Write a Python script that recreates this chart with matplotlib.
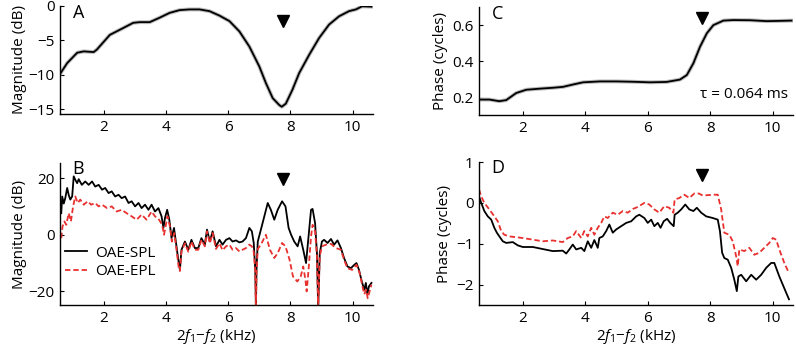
import numpy as np
import matplotlib
matplotlib.use("Agg")
import matplotlib.pyplot as plt
import matplotlib.transforms as mtransforms

plt.rcParams['font.family'] = ['Open Sans', 'DejaVu Sans']
plt.rcParams['mathtext.fontset'] = 'custom'
plt.rcParams['mathtext.rm'] = 'Open Sans'
plt.rcParams['mathtext.it'] = 'Open Sans:italic'

# ---- Panel A: magnitude (dB)
a_x = [0.62, 0.83, 1.15, 1.36, 1.68, 1.78, 2.2, 2.63, 2.95, 3.16, 3.48, 3.8, 4.12, 4.44,
       4.76, 5.08, 5.4, 5.72, 6.04, 6.36, 6.68, 7.0, 7.21, 7.43, 7.64, 7.72, 7.85, 8.06,
       8.28, 8.6, 8.92, 9.24, 9.56, 9.88, 10.1, 10.3, 10.6]
a_y = [-9.75, -8.3, -6.8, -6.6, -6.7, -6.35, -4.2, -3.2, -2.45, -2.35, -2.35, -1.7, -1.0, -0.6,
       -0.5, -0.5, -0.75, -1.4, -2.2, -3.7, -5.9, -8.8, -11.2, -13.4, -14.4, -14.65, -14.2, -12.2,
       -9.75, -7.1, -4.65, -2.7, -1.5, -0.75, -0.5, -0.05, -0.1]

# ---- Panel B: OAE magnitude (dB)
b_spl_x = [0.64, 0.67, 0.72, 0.77, 0.83, 0.88, 0.93, 0.99, 1.04, 1.09, 1.15, 1.2, 1.3, 1.41,
           1.52, 1.63, 1.73, 1.84, 1.95, 2.05, 2.16, 2.26, 2.37, 2.48, 2.58, 2.69, 2.8, 2.9,
           3.01, 3.12, 3.22, 3.33, 3.44, 3.54, 3.65, 3.76, 3.86, 3.92, 3.97, 4.04, 4.11, 4.18,
           4.26, 4.34, 4.39, 4.45, 4.5, 4.61, 4.72, 4.82, 4.93, 5.04, 5.14, 5.25, 5.32, 5.41,
           5.5, 5.61, 5.72, 5.82, 5.93, 6.04, 6.14, 6.25, 6.36, 6.46, 6.57, 6.68, 6.76, 6.82,
           6.87, 6.89, 6.91, 6.95, 7.05, 7.16, 7.27, 7.37, 7.48, 7.59, 7.73, 7.84, 7.94, 8.02,
           8.12, 8.23, 8.31, 8.41, 8.5, 8.58, 8.66, 8.71, 8.79, 8.85, 8.89, 8.94, 9.01, 9.08,
           9.19, 9.3, 9.4, 9.51, 9.62, 9.72, 9.83, 9.94, 10.05, 10.12, 10.2, 10.29, 10.37,
           10.42, 10.47, 10.52, 10.6]
b_spl_y = [7.6, 13.5, 11, 13, 16.5, 14, 12.4, 13.5, 20.6, 19.4, 18.2, 19.6, 17.6, 18.8,
           17.6, 18.8, 17, 17.6, 15.9, 16.5, 14.7, 15.3, 13.5, 14.1, 12.9, 13.5, 11.2, 11.8,
           10, 11.2, 9.4, 10.6, 8.8, 10.6, 8.2, 9.4, 6.5, 2.4, 5.9, 8.8, 5.3, -1.2,
           2.4, -4.1, -8.2, -12.4, -5.3, -2.4, -5.3, -1.8, -4.7, -4.7, -1.2, -3.5, 1.8, -2.4,
           1.2, -4.1, -1.8, -3.5, -1.8, -1.2, -2.4, -2.0, -2.7, -2.4, -1.2, 2.4, 1.2, -2.9,
           -12.4, -26, -12, -2.4, 1.8, 6.5, 11.2, 8.8, 5.3, 8.8, 11.8, 10, 2.4, 0,
           -2.4, -4.1, -0.6, -5.3, -10, -0.6, 8.8, 9.1, 4.1, -6.5, -26, -6.5, -2.4, -1.8,
           -2.9, -1.5, -3.5, -2.0, -4.7, -8.2, -11.2, -11.8, -10.6, -10, -12.4, -16.5, -19.4,
           -17, -21, -18.2, -17]

b_epl_x = [0.64, 0.68, 0.74, 0.8, 0.88, 0.95, 1.02, 1.09, 1.17, 1.25, 1.36, 1.49, 1.6, 1.73,
           1.84, 1.95, 2.11, 2.26, 2.42, 2.58, 2.74, 2.9, 3.06, 3.22, 3.38, 3.54, 3.65, 3.78,
           3.88, 3.94, 3.99, 4.05, 4.13, 4.19, 4.27, 4.34, 4.42, 4.45, 4.5, 4.61, 4.72, 4.82,
           4.93, 5.04, 5.14, 5.25, 5.32, 5.41, 5.5, 5.61, 5.72, 5.82, 5.93, 6.04, 6.14, 6.25,
           6.36, 6.46, 6.57, 6.68, 6.76, 6.82, 6.87, 6.89, 6.91, 6.95, 7.05, 7.21, 7.34, 7.48,
           7.59, 7.73, 7.84, 7.97, 8.08, 8.22, 8.33, 8.41, 8.48, 8.52, 8.58, 8.66, 8.71, 8.79,
           8.85, 8.89, 8.94, 9.01, 9.14, 9.3, 9.46, 9.62, 9.72, 9.83, 9.98, 10.12, 10.22,
           10.3, 10.37, 10.43, 10.48, 10.6]
b_epl_y = [-1.2, 2.9, 4.7, 3.5, 7.6, 4.7, 10, 13.5, 11.2, 12.4, 10.6, 11.8, 10.6, 11.2,
           10, 10.6, 9.4, 10, 8.2, 8.8, 7.6, 6.5, 5.3, 7.1, 5.3, 8.2, 6.5, 5.3,
           3.5, 0, 2.9, 6.5, 2.9, -2.4, 0.6, -5.3, -12.4, -12.8, -6, -3, -6, -2.4,
           -5.3, -5.3, -1.8, -4.1, 1.2, -3, 0.6, -5, -3, -5.5, -4.1, -3.5, -5.3, -4.7,
           -5.9, -5.3, -4.7, -3.5, -4.1, -6, -13, -26, -13, -5, -3.5, 0, -5.3, -8.2,
           -6.5, -2.9, -4.1, -8.8, -14.7, -16.5, -14.7, -11.2, -15.9, -20, -12.4, -0.6, 3.5, 1.2,
           -7.6, -26, -7.6, -4.1, -3.5, -3.2, -4.7, -5.3, -8.8, -11.8, -12.4, -10.6, -13.5,
           -17.6, -21, -19.4, -22.4, -17.6]

# ---- Panel C: phase (cycles)
c_x = [0.61, 0.93, 1.25, 1.47, 1.79, 2.11, 2.54, 2.97, 3.29, 3.61, 3.93, 4.47, 5.0, 5.54,
       6.07, 6.6, 7.03, 7.25, 7.46, 7.67, 7.89, 8.1, 8.42, 8.74, 9.28, 9.81, 10.13, 10.6]
c_y = [0.19, 0.19, 0.181, 0.187, 0.226, 0.244, 0.25, 0.255, 0.26, 0.273, 0.285, 0.29, 0.29, 0.288,
       0.285, 0.287, 0.3, 0.325, 0.39, 0.48, 0.555, 0.6, 0.625, 0.628, 0.627, 0.622, 0.623, 0.625]

# ---- Panel D: OAE phase (cycles)
d_spl_x = [0.6, 0.67, 0.77, 0.88, 0.99, 1.09, 1.17, 1.25, 1.36, 1.47, 1.68, 1.84, 2.0, 2.32,
           2.64, 2.96, 3.28, 3.39, 3.49, 3.6, 3.71, 3.87, 3.97, 4.08, 4.19, 4.29, 4.4, 4.45,
           4.56, 4.67, 4.77, 4.88, 4.99, 5.15, 5.31, 5.47, 5.63, 5.73, 5.89, 6.0, 6.11, 6.21,
           6.32, 6.41, 6.51, 6.62, 6.72, 6.83, 6.86, 6.96, 7.07, 7.2, 7.33, 7.46, 7.57, 7.71,
           7.87, 8.08, 8.24, 8.31, 8.38, 8.45, 8.56, 8.67, 8.77, 8.85, 8.9, 8.99, 9.15, 9.31,
           9.47, 9.63, 9.79, 9.95, 10.05, 10.21, 10.32, 10.43, 10.52]
d_spl_y = [0.16, 0.0, -0.2, -0.33, -0.41, -0.61, -0.73, -0.82, -0.94, -0.98, -0.96, -1.04, -1.08, -1.08,
           -1.13, -1.18, -1.17, -1.24, -1.14, -1.02, -1.14, -1.1, -1.18, -0.94, -1.1, -0.91, -1.1, -0.86,
           -0.82, -0.69, -0.53, -0.73, -0.65, -0.57, -0.49, -0.45, -0.33, -0.29, -0.37, -0.49, -0.41, -0.57,
           -0.49, -0.61, -0.45, -0.39, -0.49, -0.57, -0.29, -0.24, -0.16, -0.04, -0.16, -0.2, -0.12, -0.24,
           -0.33, -0.37, -0.41, -0.69, -1.22, -1.35, -1.39, -1.59, -1.88, -2.16, -1.8, -1.76, -1.92, -1.76,
           -1.88, -1.76, -1.59, -1.47, -1.47, -1.8, -2.0, -2.2, -2.36]
d_epl_x = [0.6, 0.67, 0.77, 0.93, 1.09, 1.2, 1.31, 1.41, 1.57, 1.79, 2.0, 2.32, 2.64, 2.96,
           3.28, 3.44, 3.6, 3.71, 3.87, 3.97, 4.08, 4.19, 4.29, 4.4, 4.51, 4.61, 4.72, 4.88,
           5.04, 5.2, 5.36, 5.52, 5.68, 5.89, 6.05, 6.21, 6.37, 6.53, 6.69, 6.82, 6.86, 7.01,
           7.17, 7.33, 7.49, 7.63, 7.76, 7.92, 8.13, 8.24, 8.35, 8.45, 8.61, 8.72, 8.83, 8.88,
           8.93, 9.09, 9.25, 9.41, 9.57, 9.73, 9.89, 10.0, 10.11, 10.21, 10.37, 10.52]
d_epl_y = [0.33, 0.16, 0.0, -0.16, -0.33, -0.45, -0.69, -0.78, -0.82, -0.84, -0.86, -0.9, -0.94, -0.92,
           -0.96, -0.86, -0.82, -0.69, -0.86, -0.69, -0.82, -0.61, -0.78, -0.61, -0.49, -0.33, -0.37, -0.24,
           -0.29, -0.2, -0.24, -0.15, -0.1, 0.0, -0.04, -0.16, -0.24, -0.08, -0.12, -0.24, 0.08, 0.12,
           0.2, 0.12, 0.23, 0.23, 0.18, 0.19, 0.2, 0.2, -0.16, -0.73, -0.78, -0.94, -1.31, -1.55,
           -1.14, -1.18, -1.1, -1.27, -1.22, -1.1, -0.98, -0.86, -0.9, -1.14, -1.47, -1.72]

x_ticks = [2, 4, 6, 8, 10]
marker_x = 7.75
tau_text = "\u03c4 = 0.064 ms"
legend_labels = ["OAE-SPL", "OAE-EPL"]

fig = plt.figure(figsize=(7.96, 3.58), dpi=100)
axA = fig.add_axes([0.0754, 0.6816, 0.3932, 0.3017])
axB = fig.add_axes([0.0754, 0.148, 0.3932, 0.3966])
axC = fig.add_axes([0.6018, 0.6788, 0.3945, 0.3017])
axD = fig.add_axes([0.6018, 0.148, 0.3945, 0.3994])

FS = 11
for ax in (axA, axB, axC, axD):
    ax.set_xlim(0.6, 10.65)
    ax.set_xticks(x_ticks)
    for s in ('top', 'right'):
        ax.spines[s].set_visible(False)
    ax.spines['left'].set_linewidth(1.0)
    ax.spines['bottom'].set_linewidth(1.0)
    ax.tick_params(direction='in', length=3, width=0.8, labelsize=FS, pad=4)

red = '#e8312f'
axA.plot(a_x, a_y, color='#bbbbbb', lw=2.8)
axA.plot(a_x, a_y, color='black', lw=1.3)
axA.set_ylim(-15.7, 0)
axA.set_yticks([-15, -10, -5, 0])
axA.set_yticklabels(['\u221215', '\u221210', '\u22125', '0'])
axA.set_ylabel('Magnitude (dB)', fontsize=FS, labelpad=1)

l1, = axB.plot(b_spl_x, b_spl_y, color='black', lw=1.3)
l2, = axB.plot(b_epl_x, b_epl_y, color=red, lw=1.3, ls=(0, (3, 1.6)))
axB.set_ylim(-24.8, 25.3)
axB.set_yticks([-20, 0, 20])
axB.set_yticklabels(['\u221220', '0', '20'])
axB.set_ylabel('Magnitude (dB)', fontsize=FS, labelpad=1)
axB.set_xlabel(r'2$\mathit{f}_1$' + '\u2212' + r'$\mathit{f}_2$ (kHz)', fontsize=FS, labelpad=1)
axB.legend([l1, l2], legend_labels, loc='upper left', bbox_to_anchor=(-0.005, 0.46),
           frameon=False, fontsize=FS, handlelength=1.5, handletextpad=0.5,
           labelspacing=0.2, borderaxespad=0)

axC.plot(c_x, c_y, color='#bbbbbb', lw=2.8)
axC.plot(c_x, c_y, color='black', lw=1.3)
axC.set_ylim(0.105, 0.7)
axC.set_yticks([0.2, 0.4, 0.6])
axC.set_ylabel('Phase (cycles)', fontsize=FS, labelpad=3)
axC.text(0.985, 0.12, tau_text, transform=axC.transAxes, ha='right', va='bottom', fontsize=FS)

axD.plot(d_spl_x, d_spl_y, color='black', lw=1.3)
axD.plot(d_epl_x, d_epl_y, color=red, lw=1.3, ls=(0, (3, 1.6)))
axD.set_ylim(-2.5, 1)
axD.set_yticks([-2, -1, 0, 1])
axD.set_yticklabels(['\u22122', '\u22121', '0', '1'])
axD.set_ylabel('Phase (cycles)', fontsize=FS, labelpad=3)
axD.set_xlabel(r'2$\mathit{f}_1$' + '\u2212' + r'$\mathit{f}_2$ (kHz)', fontsize=FS, labelpad=1)

for ax, letter, my in ((axA, 'A', 0.86), (axB, 'B', 0.89), (axC, 'C', 0.9), (axD, 'D', 0.91)):
    ax.text(0.04, 1.02, letter, transform=ax.transAxes, ha='left', va='top', fontsize=13)
    trans = mtransforms.blended_transform_factory(ax.transData, ax.transAxes)
    ax.plot([marker_x], [my], marker='v', color='black', ms=9, transform=trans, clip_on=False)

fig.savefig('out.png', dpi=100)
